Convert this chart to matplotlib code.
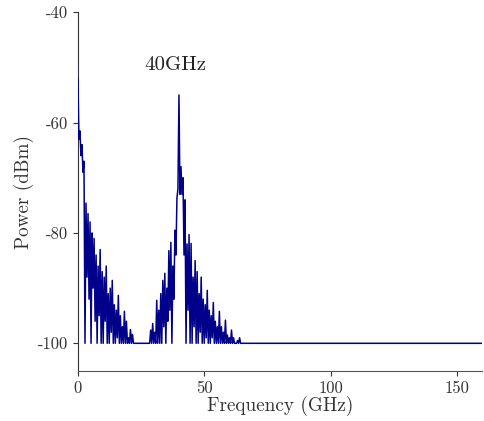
import matplotlib
matplotlib.use("Agg")
import matplotlib.pyplot as plt
import numpy as np

# spectrum analyser trace, one sample every 0.4 GHz from 0 GHz, then floor to 160 GHz
stepGHz = 0.4
powerDbm = [
    # 0 - 3.6 GHz
    -52, -63, -61.5, -66, -64, -69, -67, -100, -74.6, -88,
    # 4.0 - 7.6
    -76.5, -92, -78, -100, -80, -90, -81, -96, -84, -100,
    # 8.0 - 11.6
    -86, -95, -83, -100, -87, -100, -88, -96, -86, -100,
    # 12.0 - 15.6
    -91, -100, -90, -98, -88.6, -100, -93, -100, -94, -99,
    # 16.0 - 19.6
    -91.3, -100, -95, -100, -97, -100, -94.2, -100, -96, -100,
    # 20.0 - 23.6
    -99, -100, -97.5, -100, -98.4, -100, -100, -100, -100, -100,
    # 24.0 - 27.6
    -100, -100, -100, -100, -100, -100, -100, -100, -100, -100,
    # 28.0 - 31.6
    -100, -100, -97.6, -100, -96.4, -100, -98, -100, -92.2, -100,
    # 32.0 - 35.6
    -94, -100, -91, -100, -88.6, -97, -87.3, -100, -90, -96,
    # 36.0 - 39.6
    -83.2, -94, -81.7, -100, -86, -92, -79.5, -84, -73.7, -72,
    # 40.0 - 43.6
    -55, -73, -68, -73, -70, -84, -74, -100, -82, -94,
    # 44.0 - 47.6
    -80.3, -100, -81.9, -100, -88, -97, -85, -100, -87, -100,
    # 48.0 - 51.6
    -91, -98, -88, -100, -92, -100, -93, -99, -90.4, -100,
    # 52.0 - 55.6
    -94, -100, -95, -99, -92.6, -100, -96, -100, -97, -100,
    # 56.0 - 59.6
    -94.2, -100, -97, -100, -98, -100, -95.8, -100, -98.5, -100,
    # 60.0 - 63.6
    -99, -100, -97.6, -100, -99, -100, -100, -100, -99.5, -100,
    # 64.0 - 64.4
    -99, -100,
]
endFreq = 160
endPower = -100

yTicks = [-40, -60, -80, -100]
yTickLabels = ["-40", "-60", "-80", "-100"]
xTicks = [0, 50, 100, 150]
xTickLabels = ["0", "50", "100", "150"]

freq = np.arange(len(powerDbm)) * stepGHz
freq = np.append(freq, endFreq)
power = np.append(np.array(powerDbm, dtype=float), endPower)

plt.rcParams['font.family'] = ['cmr10', 'DejaVu Serif']
plt.rcParams['axes.unicode_minus'] = False

fig = plt.figure(figsize=(4.84, 4.21), dpi=100)
ax = fig.add_axes([0.161, 0.119, 0.835, 0.852])
ax.plot(freq, power, color='#00008B', linewidth=1.1, zorder=3)

ax.set_xlim(0, 160)
ax.set_ylim(-105, -40)
ax.set_xticks(xTicks)
ax.set_xticklabels(xTickLabels)
ax.set_yticks(yTicks)
ax.set_yticklabels(yTickLabels)
ax.tick_params(direction='out', length=3.5, width=0.8, labelsize=12, colors='#333333')
ax.spines['top'].set_visible(False)
ax.spines['right'].set_visible(False)
ax.spines['left'].set_color('#333333')
ax.spines['bottom'].set_color('#555555')

ax.set_xlabel("Frequency (GHz)", fontsize=13.8, labelpad=0, color='#333333')
ax.set_ylabel("Power (dBm)", fontsize=13.8, labelpad=3, color='#333333')
ax.text(38.7, -49.6, "40GHz", fontsize=15, ha='center', va='center', color='#222222')

fig.savefig("out.png", dpi=100)
